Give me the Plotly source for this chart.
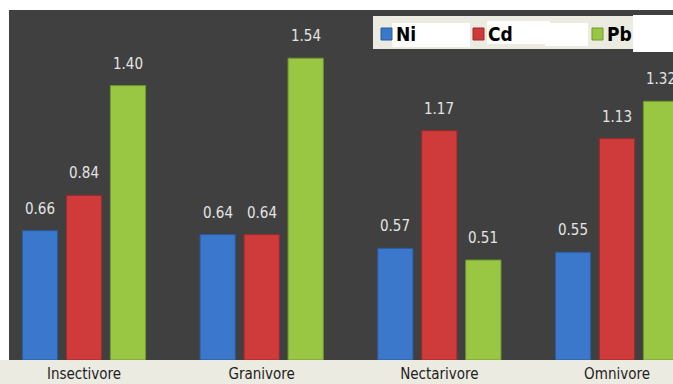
import plotly.graph_objects as go

categories = ["Insectivore", "Granivore", "Nectarivore", "Omnivore"]
ni = [0.66, 0.64, 0.57, 0.55]
cd = [0.84, 0.64, 1.17, 1.13]
pb = [1.40, 1.54, 0.51, 1.32]
series_names = ["Ni", "Cd", "Pb"]
colors = ["#3b78cc", "#cf3b3b", "#99c744"]
edge = ["#2a5a9c", "#9c2a2a", "#6f9a2c"]

W, H = 673, 384
L, R, T, B = 9, 0, 10, 24
pw, ph = W - L - R, H - T - B

def px_x(x):
    return (x - L) / pw

def px_y(y):
    return (H - B - y) / ph

fig = go.Figure()
for name, vals, c, e in zip(series_names, [ni, cd, pb], colors, edge):
    fig.add_trace(go.Bar(
        x=categories, y=vals, name=name,
        marker=dict(color=c, line=dict(color=e, width=1)),
        showlegend=False,
    ))

# value labels above bars
shifts = [-44, 0, 44]
annotations = []
for vals, sh in zip([ni, cd, pb], shifts):
    for cat, v in zip(categories, vals):
        annotations.append(dict(
            x=cat, y=v, xref="x", yref="y", text=f"{v:.2f}", showarrow=False,
            xshift=sh, yshift=11, yanchor="bottom", xanchor="center",
            font=dict(family="DejaVu Sans Condensed", size=15, color="#e4e4e4"),
        ))

shapes = [
    # beige axis strip
    dict(type="rect", xref="paper", yref="paper", x0=px_x(0), x1=px_x(W), y0=px_y(H), y1=px_y(360),
         fillcolor="#ecebe2", line=dict(width=0), layer="below"),
    # legend box
    dict(type="rect", xref="paper", yref="paper", x0=px_x(373), x1=px_x(W), y0=px_y(49), y1=px_y(16),
         fillcolor="#ecebe2", line=dict(width=0)),
    dict(type="rect", xref="paper", yref="paper", x0=px_x(392), x1=px_x(470), y0=px_y(47), y1=px_y(23),
         fillcolor="#ffffff", line=dict(width=0)),
    dict(type="rect", xref="paper", yref="paper", x0=px_x(487), x1=px_x(550), y0=px_y(44), y1=px_y(21),
         fillcolor="#ffffff", line=dict(width=0)),
    dict(type="rect", xref="paper", yref="paper", x0=px_x(545), x1=px_x(588), y0=px_y(46), y1=px_y(23),
         fillcolor="#ffffff", line=dict(width=0)),
    dict(type="rect", xref="paper", yref="paper", x0=px_x(633), x1=px_x(W), y0=px_y(52), y1=px_y(15),
         fillcolor="#ffffff", line=dict(width=0)),
]

# manual legend
legend_sq_x = [381, 473, 592]
legend_tx_x = [394, 486, 605]
for name, c, e, sx, tx in zip(series_names, colors, edge, legend_sq_x, legend_tx_x):
    shapes.append(dict(type="rect", xref="paper", yref="paper", x0=px_x(sx), x1=px_x(sx + 11),
                       y0=px_y(40), y1=px_y(28), fillcolor=c, line=dict(color=e, width=1)))
    annotations.append(dict(x=px_x(tx), y=px_y(34), xref="paper", yref="paper", text=f"<b>{name}</b>",
                            showarrow=False, xanchor="left", yanchor="middle",
                            font=dict(family="Liberation Sans Narrow, DejaVu Sans Condensed", size=19,
                                      color="#000000")))

fig.update_layout(
    width=W, height=H,
    margin=dict(l=L, r=R, t=T, b=B, pad=0, autoexpand=False),
    paper_bgcolor="#ffffff",
    plot_bgcolor="#404040",
    barmode="group", bargap=0.257, bargroupgap=0.2,
    showlegend=False,
    xaxis=dict(range=[-0.422, 3.315], showgrid=False, zeroline=False, showline=False,
               ticks="", ticklabelstandoff=3, automargin=False,
               tickfont=dict(family="DejaVu Sans Condensed", size=15, color="#1e1e1e"), fixedrange=True),
    yaxis=dict(range=[0, 1.786], visible=False, showgrid=False, automargin=False),
    shapes=shapes,
    annotations=annotations,
)

fig.write_html("out.html")
